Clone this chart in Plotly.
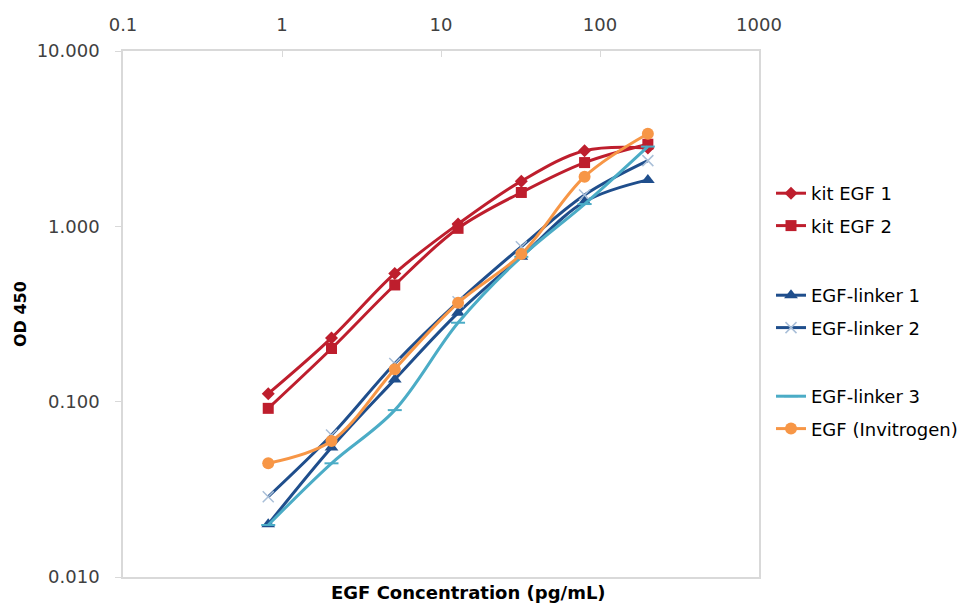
import plotly.graph_objects as go

# EGF concentration (pg/mL), 2.5-fold dilution series
conc = [0.8192, 2.048, 5.12, 12.8, 32, 80, 200]

kit_egf_1 = [0.111, 0.231, 0.539, 1.03, 1.81, 2.70, 2.80]
kit_egf_2 = [0.0916, 0.201, 0.463, 0.974, 1.56, 2.31, 2.94]
egf_linker_1 = [0.0200, 0.0548, 0.134, 0.321, 0.671, 1.38, 1.84]
egf_linker_2 = [0.0287, 0.0645, 0.165, 0.371, 0.765, 1.51, 2.37]
egf_linker_3 = [0.0198, 0.0445, 0.0895, 0.282, 0.670, 1.34, 2.85]
egf_invitrogen = [0.0445, 0.0596, 0.153, 0.366, 0.695, 1.92, 3.37]

x_tickvals = [0.1, 1, 10, 100, 1000]
x_ticktext = ["0.1", "1", "10", "100", "1000"]
y_tickvals = [0.01, 0.1, 1, 10]
y_ticktext = ["0.010", "0.100", "1.000", "10.000"]

RED = "#BE1E2D"
DBLUE = "#1F4E8C"
LBLUE = "#4BACC6"
ORANGE = "#F79646"
FONT = "DejaVu Sans"

series = [
    ("kit EGF 1", kit_egf_1, RED, dict(symbol="diamond", size=10, color=RED), "legend"),
    ("kit EGF 2", kit_egf_2, RED, dict(symbol="square", size=11, color=RED), "legend"),
    ("EGF-linker 1", egf_linker_1, DBLUE, dict(symbol="triangle-up", size=12, color=DBLUE), "legend2"),
    ("EGF-linker 2", egf_linker_2, DBLUE,
     dict(symbol="x-thin", size=11, color="#A9BFD8", line=dict(color="#A9BFD8", width=1.5)), "legend2"),
    ("EGF-linker 3", egf_linker_3, LBLUE,
     dict(symbol="line-ew", size=10, color=LBLUE, line=dict(color=LBLUE, width=2)), "legend3"),
    ("EGF (Invitrogen)", egf_invitrogen, ORANGE, dict(symbol="circle", size=12, color=ORANGE), "legend3"),
]

fig = go.Figure()
for name, vals, col, mk, leg in series:
    fig.add_trace(go.Scatter(
        x=conc, y=vals, name=name, mode="lines+markers",
        line=dict(color=col, width=3, shape="spline", smoothing=1.0),
        marker=mk, legend=leg, legendgroup=name,
    ))

W, H = 966, 604
L, R, T, B = 123, 759, 51, 577


def py(px):
    return 1 - (px - T) / (B - T)


def px_(x):
    return (x - L) / (R - L)


legend_common = dict(
    font=dict(family=FONT, size=18, color="#000000"),
    bgcolor="rgba(0,0,0,0)", borderwidth=0,
    traceorder="grouped", tracegroupgap=6,
    xanchor="left", yanchor="top",
)

fig.update_layout(
    width=W, height=H,
    margin=dict(l=L, r=W - R, t=T, b=H - B, autoexpand=False),
    paper_bgcolor="white", plot_bgcolor="white",
    font=dict(family=FONT, size=18, color="#404040"),
    showlegend=True,
    legend=dict(x=px_(771), y=py(175), **legend_common),
    legend2=dict(x=px_(771), y=py(277), **legend_common),
    legend3=dict(x=px_(771), y=py(378), **legend_common),
    xaxis=dict(
        type="log", range=[-1, 3], side="top",
        tickvals=x_tickvals, ticktext=x_ticktext,
        ticks="inside", ticklen=6, tickcolor="#D9D9D9", tickwidth=1,
        showline=True, linecolor="#D9D9D9", linewidth=1.5, mirror=True,
        showgrid=False, zeroline=False,
        tickfont=dict(family=FONT, size=18, color="#404040"),
        ticklabelstandoff=11,
    ),
    yaxis=dict(
        type="log", range=[-2, 1],
        tickvals=y_tickvals, ticktext=y_ticktext,
        ticks="outside", ticklen=6, tickcolor="#D9D9D9", tickwidth=1,
        showline=True, linecolor="#D9D9D9", linewidth=1.5, mirror=True,
        showgrid=False, zeroline=False,
        tickfont=dict(family=FONT, size=18, color="#404040"),
        ticklabelstandoff=12,
    ),
    annotations=[
        dict(text="<b>EGF Concentration (pg/mL)</b>", xref="paper", yref="paper",
             x=px_(468), y=py(592), xanchor="center", yanchor="middle", showarrow=False,
             font=dict(family=FONT, size=18, color="#000000")),
        dict(text="<b>OD 450</b>", xref="paper", yref="paper",
             x=px_(20), y=py(314), xanchor="center", yanchor="middle", showarrow=False,
             textangle=-90, font=dict(family=FONT, size=16, color="#000000")),
    ],
)

fig.write_html("out.html")
